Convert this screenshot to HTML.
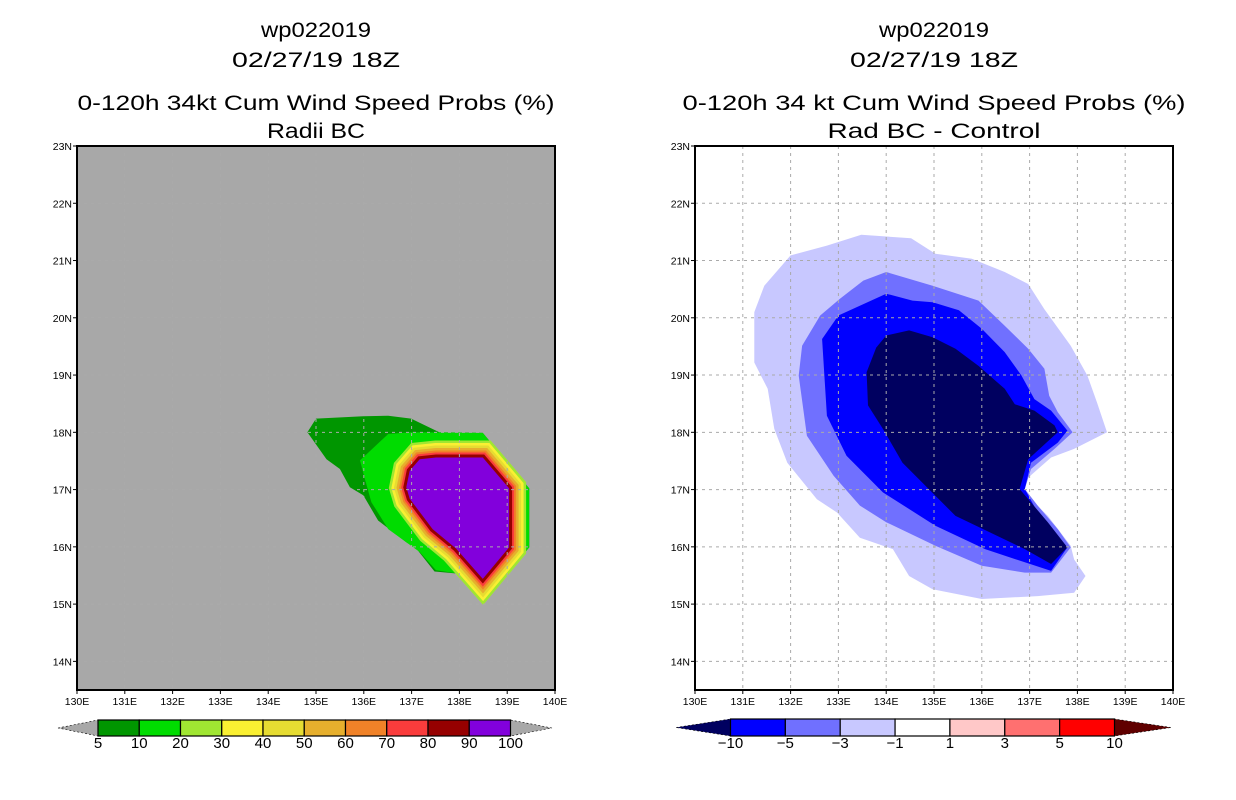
<!DOCTYPE html>
<html><head><meta charset="utf-8"><style>
body{margin:0;background:#fff;width:1236px;height:800px;overflow:hidden}
svg{display:block}
text{font-family:"Liberation Sans",sans-serif}
</style></head><body>
<svg id="s" width="1236" height="800" viewBox="0 0 1236 800"></svg>
<script>
// ---- data (lon/lat contour vertices) ----
const lonTicks=[130,131,132,133,134,135,136,137,138,139,140];
const latTicks=[14,15,16,17,18,19,20,21,22,23];
// left panel: probability contours
const p5Lon=[134.82,135.0,135.99,136.51,136.99,137.58,138.49,139.46,139.46,138.49,138.0,137.48,137.10,136.89,136.30,135.99,135.71,135.5,135.22];
const p5Lat=[18.0,18.24,18.28,18.29,18.24,18.0,17.99,17.02,15.99,15.02,15.53,15.57,15.97,16.08,16.46,16.90,17.04,17.36,17.53];
const p10Lon=[135.92,136.06,136.51,136.99,138.49,139.46,139.46,138.49,138.0,137.51,137.17,136.89,136.51,136.16,136.02];
const p10Lat=[17.51,17.62,17.97,18.0,17.99,17.02,15.99,15.02,15.53,15.59,15.91,16.08,16.31,16.78,17.19];
const p90Lon=[136.89,136.96,137.17,137.51,138.49,139.04,139.04,138.49,137.93,137.44,136.96];
const p90Lat=[17.04,17.33,17.53,17.56,17.56,17.02,15.99,15.44,15.97,16.31,16.84];
// right panel: difference contours
const d1Lon=[133.48,134.52,135.03,135.79,136.48,136.97,137.31,137.86,138.21,138.41,138.62,137.93,137.45,136.97,136.79,137.03,137.38,137.86,137.93,138.17,137.93,137.17,136.0,134.97,134.48,134.14,133.45,132.97,132.55,131.93,131.66,131.52,131.24,131.24,131.45,132.0,132.76];
const d1Lat=[21.45,21.39,21.12,21.03,20.80,20.59,20.15,19.51,18.99,18.52,18.0,17.71,17.56,17.21,17.01,16.83,16.54,16.02,15.78,15.49,15.20,15.14,15.09,15.26,15.49,15.96,16.16,16.60,16.83,17.47,18.06,18.76,19.22,20.10,20.56,21.09,21.26];
const d3Lon=[134.0,134.97,135.93,136.48,136.97,137.31,137.41,137.59,137.90,137.52,137.03,136.9,137.17,137.59,137.86,137.45,136.90,136.0,135.03,134.0,133.45,132.90,132.34,132.17,132.24,132.62,133.03,133.52];
const d3Lat=[20.80,20.56,20.30,19.86,19.46,19.11,18.64,18.35,18.0,17.71,17.36,17.01,16.72,16.31,15.99,15.55,15.55,15.67,16.02,16.43,16.72,17.24,17.94,18.99,19.51,20.04,20.33,20.65];
const d5Lon=[134.0,134.55,134.97,135.52,136.0,136.48,136.83,137.10,137.45,137.79,137.59,137.03,136.90,137.17,137.59,137.79,137.45,136.90,136.07,135.03,133.93,133.17,132.76,132.66,133.0];
const d5Lat=[20.42,20.30,20.27,20.13,19.81,19.40,18.99,18.58,18.38,18.03,17.82,17.47,17.01,16.60,16.19,15.99,15.58,15.73,15.96,16.37,16.95,17.59,18.29,19.63,20.04];
const d10Lon=[134.0,134.48,134.97,135.45,135.93,136.48,136.69,137.10,137.52,137.59,136.97,136.79,137.38,137.79,137.45,136.90,135.45,134.34,133.93,133.62,133.59,133.79];
const d10Lat=[19.69,19.78,19.66,19.46,19.16,18.76,18.49,18.38,18.12,18.0,17.53,17.01,16.43,15.99,15.70,15.96,16.54,17.47,18.06,18.47,19.05,19.48];
const leftLevels=["5","10","20","30","40","50","60","70","80","90","100"];
const rightLevels=["-10","-5","-3","-1","1","3","5","10"];

const NS="http://www.w3.org/2000/svg";
const S=document.getElementById('s');
function mk(tag,at,parent){const e=document.createElementNS(NS,tag);for(const k in at)e.setAttribute(k,at[k]);(parent||S).appendChild(e);return e;}
const PW=478,PH=544,TOP=146;
function xs(x0){return lon=>x0+(lon-130)*PW/10;}
function ys(lat){return TOP+(23-lat)*PH/9.5;}
function pts(fx,lo,la){return lo.map((v,i)=>fx(v).toFixed(1)+","+ys(la[i]).toFixed(1)).join(" ");}

function panel(x0,bg,name,titles,widths){
  const fx=xs(x0);
  const g=mk('g',{});
  
  
  const base=[37,67,110,138];
  titles.forEach((t,i)=>{const e=mk('text',{x:x0+239,y:base[i],'text-anchor':'middle','font-size':21,textLength:widths[i],lengthAdjust:'spacingAndGlyphs',fill:'#000'},g);e.textContent=t;
    
    });
  const r=mk('rect',{x:x0,y:TOP,width:PW,height:PH,fill:bg},g);
  
  
  return {g,fx};
}
function gridAndFrame(P,x0){
  const fx=P.fx,g=P.g;
  lonTicks.forEach(l=>{if(l>130&&l<140){const e=mk('line',{x1:fx(l),x2:fx(l),y1:TOP,y2:TOP+PH,stroke:'#aaa','stroke-dasharray':'3,4','stroke-width':1},g);}});
  latTicks.forEach(l=>{if(l<23){const e=mk('line',{x1:x0,x2:x0+PW,y1:ys(l),y2:ys(l),stroke:'#aaa','stroke-dasharray':'3,4','stroke-width':1},g);}});
  const f=mk('rect',{x:x0,y:TOP,width:PW,height:PH,fill:'none',stroke:'#000','stroke-width':2},g);
  
  
  lonTicks.forEach(l=>{mk('line',{x1:fx(l),x2:fx(l),y1:TOP+PH,y2:TOP+PH+4,stroke:'#000'},g);
    const t=mk('text',{x:fx(l),y:TOP+PH+15,'text-anchor':'middle','font-size':10.5,fill:'#000'},g);t.textContent=l+'E';
    });
  latTicks.forEach(l=>{mk('line',{x1:x0-4,x2:x0,y1:ys(l),y2:ys(l),stroke:'#000'},g);
    const t=mk('text',{x:x0-5,y:ys(l)+4,'text-anchor':'end','font-size':10.5,fill:'#000'},g);t.textContent=l+'N';
    });
}
function poly(P,lo,la,fill,name,extra){
  const a={points:pts(P.fx,lo,la),fill:fill};Object.assign(a,extra||{});
  const e=mk('polygon',a,P.g);
  
  
  return e;
}

// LEFT
const L=panel(77,'#a8a8a8','left-panel',["wp022019","02/27/19 18Z","0-120h 34kt Cum Wind Speed Probs (%)","Radii BC"],[110,168,477,98]);
poly(L,p5Lon,p5Lat,'#009600','contour-5');
poly(L,p10Lon,p10Lat,'#00dc00','contour-10');
const ringCols=['#a0e632','#faf032','#e6dc32','#e6af2d','#f08228','#fa3c3c','#960000'];
const ringW=[34,29,24,19,14,10,6];
ringCols.forEach((c,i)=>{poly(L,p90Lon,p90Lat,c,'contour-'+leftLevels[i+2],{stroke:c,'stroke-width':ringW[i],'stroke-linejoin':'miter'});});
poly(L,p90Lon,p90Lat,'#8200dc','contour-90');
gridAndFrame(L,77);

// RIGHT
const R=panel(695,'#fff','right-panel',["wp022019","02/27/19 18Z","0-120h 34 kt Cum Wind Speed Probs (%)","Rad BC - Control"],[110,168,503,213]);
poly(R,d1Lon,d1Lat,'#c8c8ff','contour-minus1');
poly(R,d3Lon,d3Lat,'#7070ff','contour-minus3');
poly(R,d5Lon,d5Lat,'#0000ff','contour-minus5');
poly(R,d10Lon,d10Lat,'#000060','contour-minus10');
gridAndFrame(R,695);

// colorbars
function colorbar(x0,x1,t0,t1,y,h,cols,labels,lc,rc,name){
  const g=mk('g',{});
  
  
  const w=(x1-x0)/cols.length;
  const tl=mk('polygon',{points:`${t0},${y+h/2} ${x0},${y} ${x0},${y+h}`,fill:lc,stroke:'#000','stroke-width':0.6,'stroke-dasharray':'2,2'},g);
  
  const tr=mk('polygon',{points:`${t1},${y+h/2} ${x1},${y} ${x1},${y+h}`,fill:rc,stroke:'#000','stroke-width':0.6,'stroke-dasharray':'2,2'},g);
  
  cols.forEach((c,i)=>{const r=mk('rect',{x:x0+i*w,y:y,width:w,height:h,fill:c,stroke:'#000','stroke-width':1.2},g);
    });
  labels.forEach((l,i)=>{const t=mk('text',{x:x0+i*w,y:y+h+12,'text-anchor':'middle','font-size':15,fill:'#000'},g);t.textContent=l.replace('-','\u2212');
    });
}
colorbar(98,510.5,58,552,720,16,['#009600','#00dc00','#a0e632','#faf032','#e6dc32','#e6af2d','#f08228','#fa3c3c','#960000','#8200dc'],leftLevels,'#a8a8a8','#a8a8a8','left-colorbar');
colorbar(730.5,1114.5,676,1171,719,17,['#0000ff','#7070ff','#c8c8ff','#ffffff','#ffc8c8','#ff7070','#ff0000'],rightLevels,'#000060','#600000','right-colorbar');
</script>
</body></html>
